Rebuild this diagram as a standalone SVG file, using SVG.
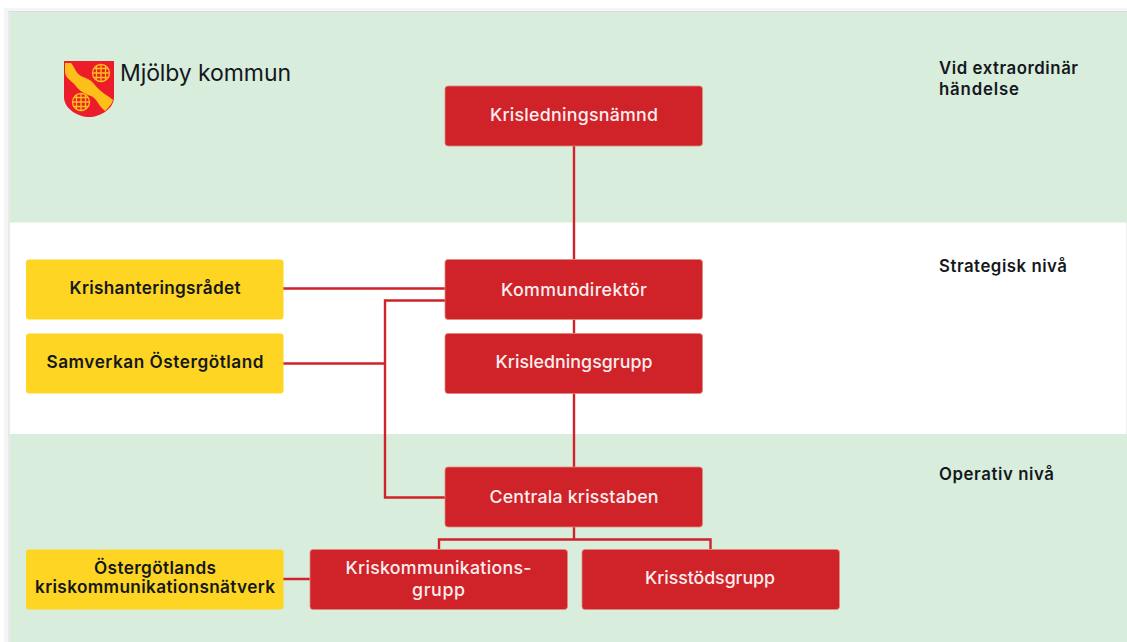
<svg xmlns="http://www.w3.org/2000/svg" width="1127" height="642" viewBox="0 0 1127 642">
<style>
.t{font-family:"Inter","Liberation Sans",sans-serif;font-weight:500;text-anchor:middle;font-size:17.800px}
.w{fill:#fbeeee}
.k{fill:#14181c;font-weight:600;font-size:17.200px}
.h{fill:#14181c;font-weight:600;font-size:16.800px;text-anchor:start}
.red{fill:#d02229;stroke:#e08a7c;stroke-width:.8}
.yel{fill:#fed523}
.c{fill:none;stroke:#d02229;stroke-width:2.400}
</style>
<rect width="1127" height="642" fill="#fff"/>
<rect x="4" y="8" width="1123" height="634" fill="#f5f5f5"/>
<rect x="9" y="11.500" width="1118" height="631" fill="#fff" stroke="#dcdcdc"/>
<rect x="10" y="12" width="1117" height="210.500" fill="#d9eddc"/>
<rect x="10" y="434" width="1117" height="208" fill="#d9eddc"/>
<g id="logo">
<path d="M64 61H114V97C114 109 100 117 89 117C78 117 64 109 64 97Z" fill="#ed1c2b"/>
<path d="M65 63L71 63C75 68 76 73 81 76C87 79 90 79 94 84C98 89 102 92 106 95C109 97 111 98 113 100C112 104 109 107 105 111C101 108 99 104 96 100C93 96 90 96 86 94C81 92 78 89 75 85C72 81 65 78 65 72Z" fill="#fdc01a"/>
<g fill="none" stroke="#fdc01a" stroke-width="1.300">
<circle cx="101" cy="73" r="8.500"/><path d="M92.500 73H109.500M94 68.500H108M94 77.500H108M101 64.500V81.500M96.500 65.500V80.500M105.500 65.500V80.500"/>
<circle cx="81" cy="102" r="8.500"/><path d="M72.500 102H89.500M74 97.500H88M74 106.500H88M81 93.500V110.500M76.500 94.500V109.500M85.500 94.500V109.500"/>
</g>
<text x="120" y="81" style="font-family:Inter,'Liberation Sans',sans-serif;font-size:23px;font-weight:400;fill:#14181c" textLength="171">Mjölby kommun</text>
</g>
<g id="connectors">
<path class="c" d="M574 146V260M574 319V334M574 393V468M283 288.500H446M446 300.500H385V497.500H446M283 363.500H385M574 527V539M439 549V539.500H710.500V549M283 579H310"/>
</g>
<g id="krisledningsnamnd"><rect class="red" x="445" y="86" width="257.500" height="60" rx="3"/><text class="t w" x="574" y="120.500" textLength="168">Krisledningsnämnd</text></g>
<g id="kommundirektor"><rect class="red" x="445" y="259.500" width="257.500" height="60" rx="3"/><text class="t w" x="574" y="296" textLength="146">Kommundirektör</text></g>
<g id="krisledningsgrupp"><rect class="red" x="445" y="333.500" width="257.500" height="60" rx="3"/><text class="t w" x="574" y="368" textLength="157">Krisledningsgrupp</text></g>
<g id="centrala"><rect class="red" x="445" y="467" width="257.500" height="60" rx="3"/><text class="t w" x="574" y="503" textLength="169">Centrala krisstaben</text></g>
<g id="kriskommunikationsgrupp"><rect class="red" x="310" y="549.500" width="257.500" height="60" rx="3"/><text class="t w" x="438.500" y="573.500" textLength="186">Kriskommunikations-</text><text class="t w" x="438.500" y="595.500" textLength="53">grupp</text></g>
<g id="krisstodsgrupp"><rect class="red" x="582" y="549.500" width="257.500" height="60" rx="3"/><text class="t w" x="710" y="584" textLength="130">Krisstödsgrupp</text></g>
<g id="krishanteringsradet"><rect class="yel" x="26" y="259.500" width="257.500" height="60" rx="3"/><text class="t k" x="155" y="293.500" textLength="171">Krishanteringsrådet</text></g>
<g id="samverkan"><rect class="yel" x="26" y="333.500" width="257.500" height="60" rx="3"/><text class="t k" x="155" y="367.500" textLength="217">Samverkan Östergötland</text></g>
<g id="natverk"><rect class="yel" x="26" y="549.500" width="257.500" height="60" rx="3"/><text class="t k" x="155" y="574" textLength="122">Östergötlands</text><text class="t k" x="155" y="593" textLength="240">kriskommunikationsnätverk</text></g>
<g id="levels">
<text class="t h" x="939" y="74" textLength="139">Vid extraordinär</text>
<text class="t h" x="939" y="94.500" textLength="80">händelse</text>
<text class="t h" x="939" y="271.500" textLength="128">Strategisk nivå</text>
<text class="t h" x="939" y="479.500" textLength="115">Operativ nivå</text>
</g>
</svg>
